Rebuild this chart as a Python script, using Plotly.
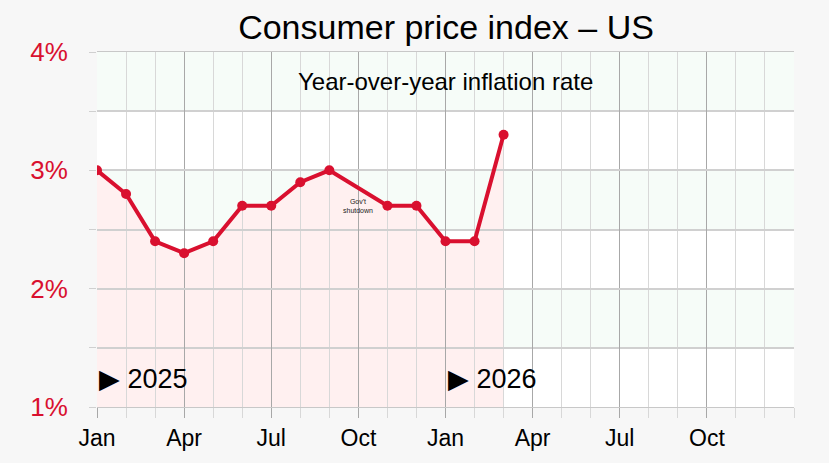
import plotly.graph_objects as go

# months since Jan 2025
months = list(range(15))
cpi = [3.0, 2.8, 2.4, 2.3, 2.4, 2.7, 2.7, 2.9, 3.0, None, 2.7, 2.7, 2.4, 2.4, 3.3]
tick_pos = [0, 3, 6, 9, 12, 15, 18, 21]
tick_text = ["Jan", "Apr", "Jul", "Oct", "Jan", "Apr", "Jul", "Oct"]
y_ticks = [1, 2, 3, 4]
y_text = ["1%", "2%", "3%", "4%"]
band_starts = [1.5, 2.5, 3.5]

red = "#D9102F"
font = "Liberation Sans, Arial, sans-serif"

fig = go.Figure()

fig.add_trace(go.Scatter(
    x=months, y=cpi,
    mode="lines+markers",
    connectgaps=True,
    line=dict(color=red, width=4),
    marker=dict(color=red, size=10),
    hoverinfo="skip",
))

shapes = []
for b in band_starts:
    shapes.append(dict(type="rect", xref="x", yref="y", x0=0, x1=24, y0=b, y1=b + 0.5,
                       fillcolor="#F6FCF8", line_width=0, layer="below"))

# area under the line, drawn beneath the gridlines
pts = [(m, v) for m, v in zip(months, cpi) if v is not None]
area = "M %s,1 " % pts[0][0] + " ".join("L %s,%s" % p for p in pts) + " L %s,1 Z" % pts[-1][0]
shapes.append(dict(type="path", xref="x", yref="y", path=area,
                   fillcolor="#FFF0F0", line_width=0, layer="below"))

fig.update_layout(
    width=829, height=463,
    margin=dict(l=97, r=35, t=52, b=54),
    paper_bgcolor="#F7F7F7",
    plot_bgcolor="white",
    showlegend=False,
    shapes=shapes,
    title=dict(text="Consumer price index – US", x=0.538, xanchor="center",
               y=0.942, yanchor="middle", font=dict(family=font, size=34, color="black")),
    font=dict(family=font),
)

fig.update_xaxes(
    range=[0, 24], tickvals=tick_pos, ticktext=tick_text,
    tickfont=dict(size=23, color="black"),
    showgrid=True, gridcolor="#A8A8A8", gridwidth=1,
    ticks="outside", ticklen=10, tickcolor="#A8A8A8",
    minor=dict(dtick=1, showgrid=True, gridcolor="#D8D8D8", ticks="outside",
               ticklen=10, tickcolor="#D8D8D8"),
    showline=True, linecolor="#C8C8C8", mirror=True,
    zeroline=False,
)

fig.update_yaxes(
    range=[1, 4], tickvals=y_ticks, ticktext=y_text,
    tickfont=dict(size=26, color=red),
    showgrid=True, gridcolor="#D0D0D0", gridwidth=2,
    ticks="outside", ticklen=7, tickcolor="#D0D0D0",
    minor=dict(dtick=0.5, showgrid=True, gridcolor="#D0D0D0", gridwidth=2,
               ticks="outside", ticklen=7, tickcolor="#D0D0D0"),
    showline=False, zeroline=False,
    ticklabelstandoff=16,
)

fig.add_annotation(x=12.0, y=3.75, xref="x", yref="y", text="Year-over-year inflation rate",
                   showarrow=False, font=dict(size=24, color="black"))
fig.add_annotation(x=9, y=2.7, xref="x", yref="y", text="Gov't<br>shutdown",
                   showarrow=False, font=dict(size=7, color="#222222"))
fig.add_annotation(x=0, y=1.24, xref="x", yref="y", xanchor="left", text="▶ 2025",
                   showarrow=False, font=dict(size=27, color="black"))
fig.add_annotation(x=12, y=1.24, xref="x", yref="y", xanchor="left", text="▶ 2026",
                   showarrow=False, font=dict(size=27, color="black"))

fig.write_html("out.html", config={"displayModeBar": False},
               post_script="document.body.style.margin='0';")
